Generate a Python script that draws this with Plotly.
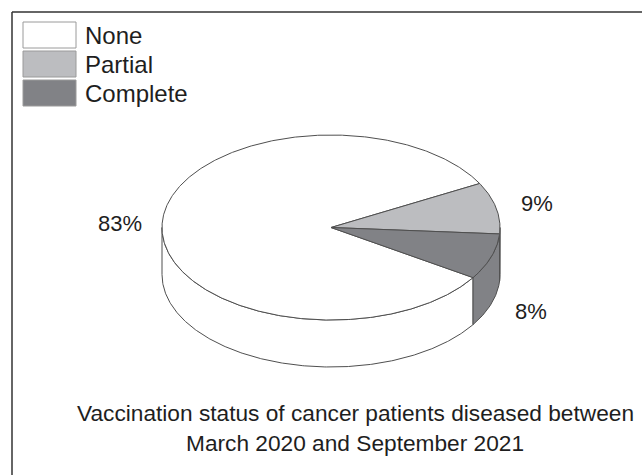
import numpy as np
import plotly.graph_objects as go

# Vaccination status shares (percent)
categories = ["None", "Partial", "Complete"]
shares = [83, 9, 8]
slice_labels = ["83%", "9%", "8%"]
colors = ["#ffffff", "#bcbdc0", "#818286"]
title_lines = [
    "Vaccination status of cancer patients diseased between",
    "March 2020 and September 2021",
]

W, H = 642, 475
CX, CY, RX, RY, DEPTH = 331, 227.5, 169, 92.5, 47
START_DEG = -32.8          # slices run clockwise from here
EDGE = "#4f4f4f"
FONT = "Arial, Liberation Sans, sans-serif"
TXT = "#1e1e1e"


def ell(theta_deg, dy=0.0):
    t = np.radians(theta_deg)
    return CX + RX * np.cos(t), CY - RY * np.sin(t) + dy


def arc(hi, lo, dy=0.0, n=None):
    n = n or max(8, int(abs(hi - lo) * 2))
    th = np.linspace(hi, lo, n)
    return ell(th, dy)


# slice angular extents (degrees, decreasing = clockwise)
bounds = []
a = START_DEG
for s in shares:
    b = a - s / 100 * 360
    bounds.append((a, b))
    a = b

fig = go.Figure()

# side walls: only the front half of the cylinder is visible
for (hi, lo), col in zip(bounds, colors):
    for k in range(-2, 3):
        f_hi, f_lo = k * 360, k * 360 - 180
        h, l = min(hi, f_hi), max(lo, f_lo)
        if h - l <= 0.01:
            continue
        xt, yt = arc(h, l)
        xb, yb = arc(l, h, DEPTH)
        xs = np.concatenate([xt, xb, xt[:1]])
        ys = np.concatenate([yt, yb, yt[:1]])
        fig.add_trace(go.Scatter(x=xs, y=ys, mode="lines", fill="toself",
                                 fillcolor=col, line=dict(color=EDGE, width=1),
                                 hoverinfo="skip", showlegend=False))

# top face of the pie
for (hi, lo), col in zip(bounds, colors):
    xa, ya = arc(hi, lo)
    xs = np.concatenate([[CX], xa, [CX]])
    ys = np.concatenate([[CY], ya, [CY]])
    fig.add_trace(go.Scatter(x=xs, y=ys, mode="lines", fill="toself",
                             fillcolor=col, line=dict(color=EDGE, width=1),
                             hoverinfo="skip", showlegend=False))

annotations = []
# percentage labels outside each slice
for (hi, lo), lab in zip(bounds, slice_labels):
    mid = (hi + lo) / 2
    s = np.sin(np.radians(mid))
    lx, ly = CX + 1.25 * RX * np.cos(np.radians(mid)), CY - 1.25 * RY * s
    if s < -0.05:
        ly += DEPTH
    annotations.append(dict(x=lx, y=ly, text=lab, showarrow=False,
                            xanchor="center", yanchor="middle",
                            font=dict(family=FONT, size=22, color=TXT)))

shapes = [
    dict(type="line", x0=12, y0=12, x1=W + 5, y1=12, line=dict(color="#333333", width=1.5)),
    dict(type="line", x0=12, y0=12, x1=12, y1=H + 5, line=dict(color="#333333", width=1.5)),
]

# legend swatches
for i, (cat, col) in enumerate(zip(categories, colors)):
    y0 = 22 + 29 * i
    shapes.append(dict(type="rect", x0=23, x1=76, y0=y0, y1=y0 + 26,
                       fillcolor=col, line=dict(color="#9a9a9a", width=1)))
    annotations.append(dict(x=83, y=y0 + 13, text=cat, showarrow=False,
                            xanchor="left", yanchor="middle",
                            font=dict(family=FONT, size=24, color=TXT)))

# caption below the pie
for j, line in enumerate(title_lines):
    annotations.append(dict(x=355, y=413 + 30 * j, text=line, showarrow=False,
                            xanchor="center", yanchor="middle",
                            font=dict(family=FONT, size=22.7, color=TXT)))

fig.update_layout(
    width=W, height=H,
    margin=dict(l=0, r=0, t=0, b=0),
    paper_bgcolor="white", plot_bgcolor="white",
    xaxis=dict(range=[0, W], visible=False, fixedrange=True),
    yaxis=dict(range=[H, 0], visible=False, fixedrange=True),
    shapes=shapes, annotations=annotations, showlegend=False,
)

fig.write_html("out.html")
